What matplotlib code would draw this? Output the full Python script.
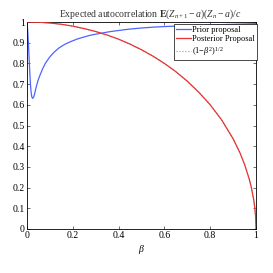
import numpy as np
import matplotlib.pyplot as plt

plt.rcParams.update({
    "font.family": "serif",
    "font.serif": ["Liberation Serif", "DejaVu Serif"],
    "mathtext.fontset": "custom",
    "mathtext.rm": "Liberation Serif",
    "mathtext.it": "Liberation Serif:italic",
    "mathtext.bf": "Liberation Serif:bold",
    "font.size": 7,
    "axes.linewidth": 0.6,
})

# values
beta_prior = [0, 0.003, 0.006, 0.009, 0.012, 0.015, 0.018, 0.021, 0.025, 0.029,
              0.033, 0.04, 0.048, 0.057, 0.068, 0.08, 0.1, 0.12, 0.14, 0.165,
              0.19, 0.22, 0.25, 0.28, 0.32, 0.36, 0.4, 0.45, 0.5, 0.55, 0.6,
              0.7, 0.8, 0.9, 1.0]
prior = [1.0, 0.96, 0.90, 0.83, 0.76, 0.70, 0.66, 0.638, 0.631, 0.637,
         0.652, 0.685, 0.717, 0.744, 0.773, 0.80, 0.832, 0.856, 0.875, 0.892,
         0.905, 0.918, 0.928, 0.937, 0.945, 0.953, 0.959, 0.966, 0.971, 0.975, 0.978,
         0.982, 0.986, 0.989, 0.992]

beta_post = [0, 0.05, 0.1, 0.15, 0.2, 0.25, 0.3, 0.35, 0.4, 0.45, 0.5, 0.55,
             0.6, 0.65, 0.7, 0.75, 0.8, 0.85, 0.9, 0.93, 0.95, 0.97, 0.98,
             0.99, 0.995, 0.998, 1.0]
posterior = [1.0, 0.999, 0.995, 0.989, 0.98, 0.968, 0.954, 0.937, 0.917, 0.893,
             0.866, 0.835, 0.80, 0.76, 0.714, 0.661, 0.60, 0.527, 0.436, 0.368,
             0.312, 0.243, 0.199, 0.141, 0.10, 0.063, 0.0]
bound = posterior  # (1-beta^2)^(1/2) sits under the red curve

xticks = [0, 0.2, 0.4, 0.6, 0.8, 1]
yticks = [0, 0.1, 0.2, 0.3, 0.4, 0.5, 0.6, 0.7, 0.8, 0.9, 1]

fig = plt.figure(figsize=(2.73, 2.73), dpi=100)
ax = fig.add_axes([27/273, 44/273, 229/273, 207/273])

ax.plot(beta_prior, prior, '-', color='#4f63ff', lw=0.9, label='Prior proposal')
ax.plot(beta_post, posterior, '-', color='#e63434', lw=0.9, label='Posterior Proposal', zorder=3)
ax.plot(beta_post, bound, ':', color='#999999', lw=0.8, label=r'(1$-$$\beta^2$)$^{1/2}$', zorder=2)

ax.set_xlim(0, 1)
ax.set_ylim(0, 1)
ax.set_xticks(xticks)
ax.set_xticklabels(['0', '0.2', '0.4', '0.6', '0.8', '1'])
ax.set_yticks(yticks)
ax.set_yticklabels(['0', '0.1', '0.2', '0.3', '0.4', '0.5', '0.6', '0.7', '0.8', '0.9', '1'])
ax.tick_params(direction='in', length=2, width=0.5, labelsize=7, pad=1.5,
               top=True, right=True, colors='#333333', labelcolor='black')
ax.set_xlabel(r'$\beta$', fontsize=7, labelpad=2)
ax.set_title(r'Expected autocorrelation $\mathbf{E}(Z_{n+1}-a)(Z_n-a)/c$',
             fontsize=7, pad=4, x=0.54, color='#333333')

leg = ax.legend(loc='upper right', bbox_to_anchor=(1.005, 0.99), fontsize=6,
                frameon=True, fancybox=False, edgecolor='black', framealpha=1,
                borderpad=0.25, handlelength=1.7, handletextpad=0.2, labelspacing=0.15,
                borderaxespad=0)
leg.get_frame().set_linewidth(0.5)

fig.savefig('out.png', dpi=100)
